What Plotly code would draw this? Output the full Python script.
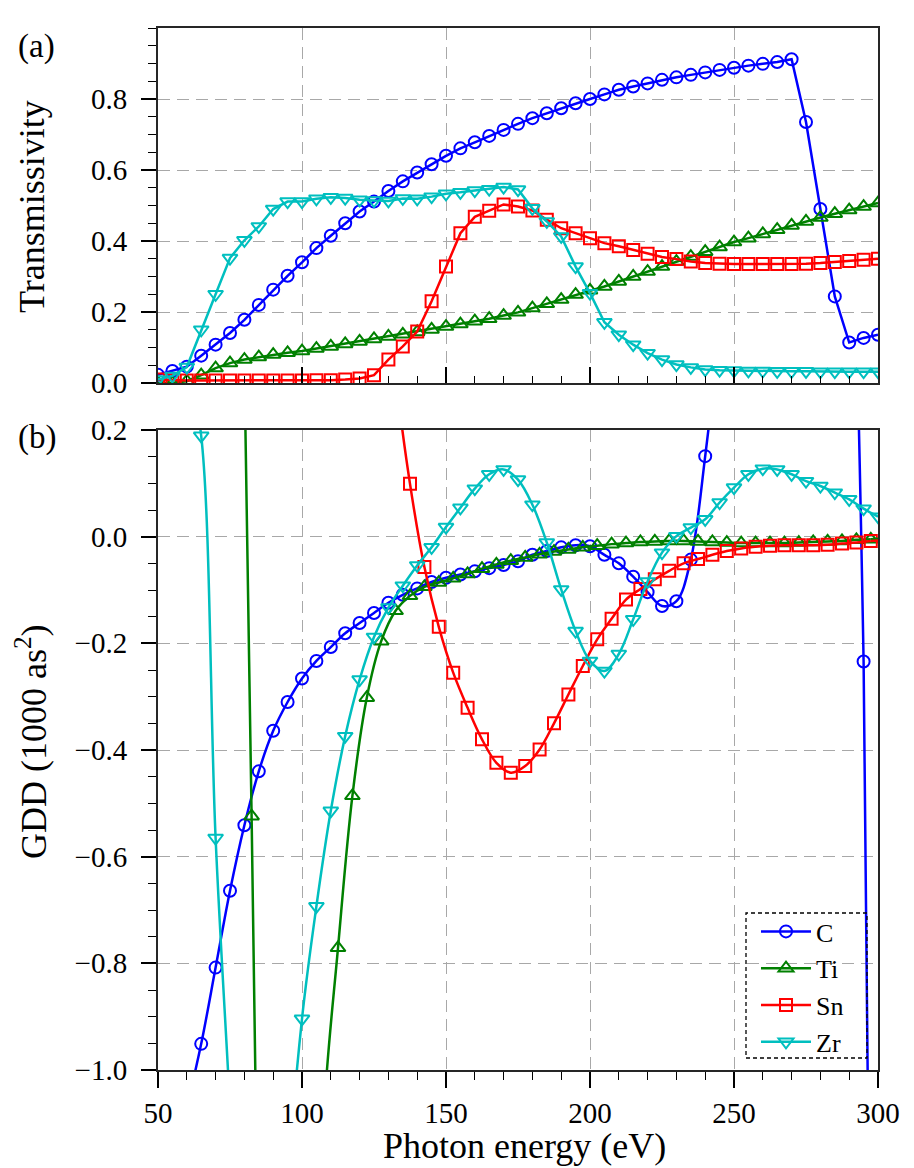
import plotly.graph_objects as go

# ---------------- data ----------------
energy_top = [50, 55, 60, 65, 70, 75, 80, 85, 90, 95, 100, 105, 110, 115, 120, 125,
              130, 135, 140, 145, 150, 155, 160, 165, 170, 175, 180, 185, 190, 195,
              200, 205, 210, 215, 220, 225, 230, 235, 240, 245, 250, 255, 260, 265,
              270, 275, 280, 285, 290, 295, 300]

trans_C = [0.023, 0.034, 0.046, 0.077, 0.108, 0.141, 0.178, 0.220, 0.263, 0.302,
           0.340, 0.380, 0.415, 0.450, 0.483, 0.511, 0.541, 0.568, 0.593, 0.616,
           0.640, 0.661, 0.678, 0.696, 0.713, 0.730, 0.746, 0.760, 0.774, 0.788,
           0.800, 0.813, 0.826, 0.835, 0.844, 0.854, 0.861, 0.868, 0.875, 0.882,
           0.888, 0.894, 0.899, 0.904, 0.912, 0.735, 0.490, 0.244, 0.114, 0.127, 0.136]
trans_Ti = [0.000, 0.000, 0.005, 0.022, 0.042, 0.056, 0.066, 0.073, 0.080, 0.085,
            0.090, 0.097, 0.103, 0.110, 0.117, 0.124, 0.131, 0.137, 0.144, 0.151,
            0.159, 0.166, 0.174, 0.181, 0.190, 0.199, 0.211, 0.223, 0.235, 0.249,
            0.261, 0.272, 0.286, 0.300, 0.314, 0.328, 0.342, 0.356, 0.370, 0.383,
            0.397, 0.408, 0.420, 0.432, 0.444, 0.455, 0.466, 0.477, 0.487, 0.497, 0.507]
trans_Sn = [0.010, 0.008, 0.007, 0.007, 0.007, 0.007, 0.007, 0.007, 0.007, 0.007,
            0.007, 0.008, 0.008, 0.010, 0.013, 0.022, 0.066, 0.103, 0.145, 0.230,
            0.328, 0.422, 0.468, 0.485, 0.503, 0.497, 0.486, 0.460, 0.436, 0.422,
            0.408, 0.394, 0.385, 0.375, 0.364, 0.355, 0.349, 0.342, 0.338, 0.336,
            0.335, 0.335, 0.335, 0.335, 0.335, 0.336, 0.338, 0.341, 0.344, 0.347, 0.350]
trans_Zr = [0.010, 0.020, 0.045, 0.150, 0.250, 0.352, 0.402, 0.441, 0.490, 0.511,
            0.511, 0.519, 0.523, 0.521, 0.516, 0.514, 0.513, 0.520, 0.519, 0.525,
            0.533, 0.537, 0.542, 0.546, 0.552, 0.545, 0.492, 0.455, 0.413, 0.328,
            0.253, 0.171, 0.136, 0.108, 0.084, 0.066, 0.052, 0.044, 0.038, 0.036,
            0.035, 0.034, 0.034, 0.033, 0.033, 0.033, 0.032, 0.032, 0.032, 0.032, 0.032]

# GDD (1000 as^2); points beyond the axis range are clipped by the axes
energy_gdd_C_Zr = [60, 65, 70, 75, 80, 85, 90, 95, 100, 105, 110, 115, 120, 125, 130,
                   135, 140, 145, 150, 155, 160, 165, 170, 175, 180, 185, 190, 195,
                   200, 205, 210, 215, 220, 225, 230, 235, 240, 245, 250, 255, 260,
                   265, 270, 275, 280, 285, 290, 295, 300]
gdd_C = [-1.07, -0.951, -0.808, -0.664, -0.541, -0.440, -0.364, -0.310, -0.266,
         -0.233, -0.207, -0.181, -0.162, -0.143, -0.124, -0.109, -0.097, -0.085,
         -0.077, -0.071, -0.065, -0.059, -0.053, -0.046, -0.034, -0.027, -0.020,
         -0.016, -0.018, -0.034, -0.050, -0.075, -0.104, -0.130, -0.121, -0.043,
         0.151, 0.40, 0.80, 1.2, 1.6, 2.0, 2.4, 2.0, 1.6, 1.2, 0.80, -0.234, -2.97]
gdd_Zr = [0.33, 0.189, -0.565, -1.07, -1.6, -2.0, -1.8, -1.22, -0.904, -0.693,
          -0.514, -0.374, -0.268, -0.188, -0.133, -0.092, -0.054, -0.020, 0.018,
          0.054, 0.090, 0.117, 0.126, 0.107, 0.060, -0.011, -0.099, -0.177, -0.233,
          -0.252, -0.220, -0.155, -0.084, -0.030, 0.001, 0.017, 0.0325, 0.064, 0.092,
          0.117, 0.1275, 0.126, 0.117, 0.104, 0.095, 0.0825, 0.070, 0.0525, 0.0375]

energy_gdd_Ti = [77.5, 82.5, 87.5, 92.5, 97.5, 102.5, 107.5, 112.5, 117.5, 122.5,
                 127.5, 132.5, 137.5, 142.5, 147.5, 152.5, 157.5, 162.5, 167.5, 172.5,
                 177.5, 182.5, 187.5, 192.5, 197.5, 202.5, 207.5, 212.5, 217.5, 222.5,
                 227.5, 232.5, 237.5, 242.5, 247.5, 252.5, 257.5, 262.5, 267.5, 272.5,
                 277.5, 282.5, 287.5, 292.5, 297.5]
gdd_Ti = [1.17, -0.524, -2.2, -3.0, -2.6, -1.9, -1.09, -0.771, -0.486, -0.302,
          -0.196, -0.139, -0.111, -0.094, -0.086, -0.078, -0.070, -0.060, -0.052,
          -0.045, -0.039, -0.033, -0.028, -0.024, -0.020, -0.017, -0.014, -0.012,
          -0.010, -0.009, -0.008, -0.008, -0.009, -0.010, -0.011, -0.012, -0.012,
          -0.012, -0.012, -0.011, -0.010, -0.009, -0.008, -0.006, -0.005]
energy_gdd_Sn = [127.5, 132.5, 137.5, 142.5, 147.5, 152.5, 157.5, 162.5, 167.5, 172.5,
                 177.5, 182.5, 187.5, 192.5, 197.5, 202.5, 207.5, 212.5, 217.5, 222.5,
                 227.5, 232.5, 237.5, 242.5, 247.5, 252.5, 257.5, 262.5, 267.5, 272.5,
                 277.5, 282.5, 287.5, 292.5, 297.5]
gdd_Sn = [0.55, 0.30, 0.099, -0.057, -0.169, -0.255, -0.321, -0.380, -0.424, -0.4425,
          -0.430, -0.399, -0.350, -0.296, -0.2425, -0.1925, -0.154, -0.118, -0.098,
          -0.080, -0.064, -0.050, -0.042, -0.034, -0.027, -0.022, -0.019, -0.017,
          -0.016, -0.016, -0.016, -0.015, -0.013, -0.011, -0.008]
# line continues to the right edge of the axis past the last marker
edge_energy = [297.5, 300]
gdd_Ti_edge = [-0.005, -0.004]
gdd_Sn_edge = [-0.008, -0.007]

x_ticks = [50, 100, 150, 200, 250, 300]
trans_ticks = [0.0, 0.2, 0.4, 0.6, 0.8]
gdd_ticks = [-1.0, -0.8, -0.6, -0.4, -0.2, 0.0, 0.2]

# ---------------- styling ----------------
FONT = "Liberation Serif"
TICK_FS = 29
TITLE_FS = 36
LEG_FS = 26
COL = {"C": "#0000ff", "Ti": "#008000", "Sn": "#ff0000", "Zr": "#00bfbf"}
SYM = {"C": "circle-open", "Ti": "triangle-up-open",
       "Sn": "square-open", "Zr": "triangle-down-open"}
MSIZE = {"C": 12, "Ti": 13, "Sn": 12, "Zr": 13}

fig = go.Figure()


def add(name, x, y, xa, ya, shape, legend):
    fig.add_trace(go.Scatter(
        x=x, y=y, xaxis=xa, yaxis=ya, name=name, mode="lines+markers",
        line=dict(color=COL[name], width=2.5, shape=shape),
        marker=dict(symbol=SYM[name], size=MSIZE[name], color=COL[name],
                    line=dict(width=2, color=COL[name])),
        showlegend=legend))


# top panel
add("C", energy_top, trans_C, "x", "y", "linear", False)
add("Ti", energy_top, trans_Ti, "x", "y", "linear", False)
add("Sn", energy_top, trans_Sn, "x", "y", "linear", False)
add("Zr", energy_top, trans_Zr, "x", "y", "linear", False)

# bottom panel
add("C", energy_gdd_C_Zr, gdd_C, "x2", "y2", "spline", True)
add("Ti", energy_gdd_Ti, gdd_Ti, "x2", "y2", "spline", True)
add("Sn", energy_gdd_Sn, gdd_Sn, "x2", "y2", "spline", True)
add("Zr", energy_gdd_C_Zr, gdd_Zr, "x2", "y2", "spline", True)
for name, yy in [("Ti", gdd_Ti_edge), ("Sn", gdd_Sn_edge)]:
    fig.add_trace(go.Scatter(x=edge_energy, y=yy, xaxis="x2", yaxis="y2", mode="lines",
                             line=dict(color=COL[name], width=2.5),
                             showlegend=False, hoverinfo="skip"))

GRID = dict(showgrid=True, gridcolor="#a8a8a8", gridwidth=1.3, griddash="12px,7px",
            zeroline=False, showline=True, linecolor="#262626", linewidth=2,
            mirror=True, tickcolor="black", tickwidth=1.6,
            tickfont=dict(family=FONT, size=TICK_FS, color="black"))

W, H = 914, 1168
L, R, T, B = 158, 36, 28, 98
PH = H - T - B
PW = W - L - R


def py(ref_y):   # pixel row -> paper y
    return (H - B - ref_y) / PH


def px(ref_x):   # pixel column -> paper x
    return (ref_x - L) / PW


fig.update_layout(
    width=W, height=H, margin=dict(l=L, r=R, t=T, b=B),
    plot_bgcolor="white", paper_bgcolor="white",
    font=dict(family=FONT, size=TICK_FS, color="black"),
    xaxis=dict(GRID, domain=[0, 1], anchor="y", range=[50, 300], tickvals=x_ticks,
               showticklabels=False, ticks="inside", ticklen=16,
               minor=dict(tickmode="linear", tick0=50, dtick=10, ticks="inside",
                          ticklen=7, tickcolor="black", tickwidth=1.4, showgrid=False)),
    yaxis=dict(GRID, domain=[py(383), 1], anchor="x", range=[0, 1.0],
               tickvals=trans_ticks, tickformat=".1f", ticks="outside", ticklen=15,
               ticklabelstandoff=8,
               minor=dict(tickmode="linear", tick0=0, dtick=0.05, ticks="outside",
                          ticklen=8, tickcolor="black", tickwidth=1.4, showgrid=False)),
    xaxis2=dict(GRID, domain=[0, 1], anchor="y2", range=[50, 300], tickvals=x_ticks,
                ticks="outside", ticklen=16, ticklabelstandoff=0,
                minor=dict(tickmode="linear", tick0=50, dtick=10, ticks="outside",
                           ticklen=8, tickcolor="black", tickwidth=1.4, showgrid=False)),
    yaxis2=dict(GRID, domain=[0, py(430)], anchor="x2", range=[-1.0, 0.2],
                tickvals=gdd_ticks, tickformat=".1f", ticks="outside", ticklen=15,
                ticklabelstandoff=8,
                minor=dict(tickmode="linear", tick0=0, dtick=0.05, ticks="outside",
                           ticklen=8, tickcolor="black", tickwidth=1.4, showgrid=False)),
    legend=dict(x=px(756), y=py(908), xanchor="left", yanchor="top",
                bgcolor="rgba(0,0,0,0)", borderwidth=0,
                font=dict(family=FONT, size=LEG_FS, color="black"),
                tracegroupgap=0, itemwidth=50),
    showlegend=True,
)

fig.add_shape(type="rect", xref="paper", yref="paper",
              x0=px(746), x1=px(867), y0=py(1058), y1=py(913),
              line=dict(color="black", width=1.3, dash="4px,3px"),
              fillcolor="rgba(0,0,0,0)")

for text, ry in [("(a)", 47), ("(b)", 437)]:
    fig.add_annotation(xref="paper", yref="paper", x=px(37), y=py(ry), text=text,
                       showarrow=False, xanchor="center", yanchor="middle",
                       font=dict(family=FONT, size=33, color="black"))

fig.add_annotation(xref="paper", yref="paper", x=px(32), y=py(207),
                   text="Transmissivity", textangle=-90, showarrow=False,
                   xanchor="center", yanchor="middle",
                   font=dict(family=FONT, size=TITLE_FS, color="black"))
fig.add_annotation(xref="paper", yref="paper", x=px(32), y=py(742),
                   text="GDD (1000 as<sup>2</sup>)", textangle=-90, showarrow=False,
                   xanchor="center", yanchor="middle",
                   font=dict(family=FONT, size=TITLE_FS, color="black"))
fig.add_annotation(xref="paper", yref="paper", x=px(524), y=py(1146),
                   text="Photon energy (eV)", showarrow=False,
                   xanchor="center", yanchor="middle",
                   font=dict(family=FONT, size=TITLE_FS, color="black"))

# the page's default 8 px body margin would shift the figure; remove it
fig.write_html("out.html",
               config={"displayModeBar": False},
               post_script="document.body.style.margin='0px';"
                           "document.body.style.overflow='hidden';")
